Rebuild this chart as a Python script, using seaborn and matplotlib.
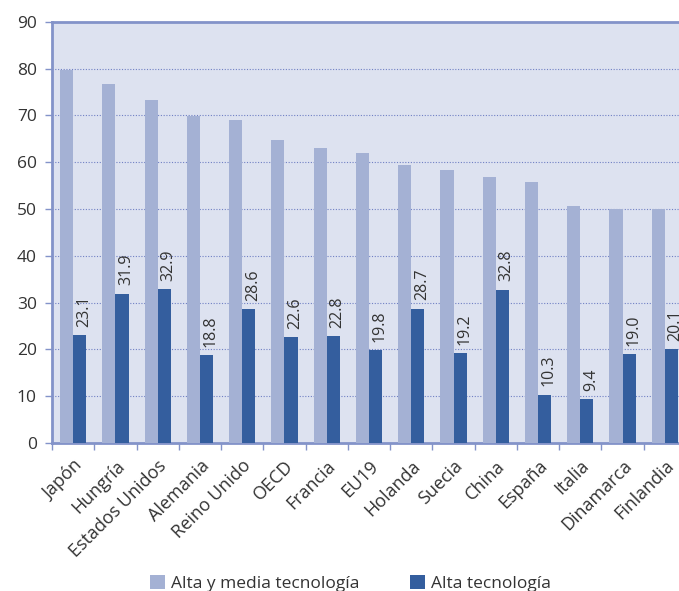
import matplotlib
matplotlib.use("Agg")
import matplotlib.pyplot as plt
import seaborn as sns
import pandas as pd
import numpy as np
from matplotlib.patches import Patch

categories = ["Japón", "Hungría", "Estados Unidos", "Alemania", "Reino Unido", "OECD",
              "Francia", "EU19", "Holanda", "Suecia", "China", "España", "Italia",
              "Dinamarca", "Finlandia"]
alta_media = [79.7, 76.7, 73.3, 69.9, 69.0, 64.7, 63.0, 62.0, 59.4, 58.3, 56.8, 55.8, 50.6, 50.0, 50.0]
alta = [23.1, 31.9, 32.9, 18.8, 28.6, 22.6, 22.8, 19.8, 28.7, 19.2, 32.8, 10.3, 9.4, 19.0, 20.1]
series_names = ["Alta y media tecnología", "Alta tecnología"]
yticks = [0, 10, 20, 30, 40, 50, 60, 70, 80, 90]

df = pd.DataFrame({
    "pais": categories * 2,
    "valor": alta_media + alta,
    "serie": [series_names[0]] * len(categories) + [series_names[1]] * len(categories),
})

sns.set_theme(style="white")
plt.rcParams["font.family"] = ["Open Sans", "DejaVu Sans"]

light = "#a4b1d4"
dark = "#345e9e"
axis_col = "#8393c9"
text_col = "#333333"

fig = plt.figure(figsize=(6.79, 5.91), dpi=100)
ax = fig.add_axes([0.0766, 0.2504, 1.0103 - 0.0766, 0.963 - 0.2504])
ax.set_facecolor("#dde2f0")

sns.barplot(data=df, x="pais", y="valor", hue="serie", order=categories,
            hue_order=series_names, palette=[light, dark], width=0.62,
            saturation=1, ax=ax, legend=False, zorder=3,
            linewidth=0, edgecolor="none")

ax.set_xlim(-0.5, len(categories) - 0.5)
ax.set_ylim(0, 90)
ax.set_yticks(yticks)
ax.set_yticklabels([str(v) for v in yticks], fontsize=12.5, color=text_col)
ax.set_xlabel("")
ax.set_ylabel("")

# dotted grid
for v in yticks[1:-1]:
    ax.axhline(v, color="#7080c4", lw=0.8, ls=(0, (1, 1.5)), zorder=1)

for s in ["top", "left", "bottom"]:
    ax.spines[s].set_visible(True)
    ax.spines[s].set_color(axis_col)
    ax.spines[s].set_linewidth(2.0)
ax.spines["right"].set_visible(False)

ax.tick_params(axis="y", which="major", length=5, width=1, color=axis_col, left=True, pad=6)
ax.set_xticks(range(len(categories)))
ax.set_xticklabels(categories, rotation=45, ha="right", rotation_mode="anchor",
                   fontsize=13, color=text_col)
ax.tick_params(axis="x", which="major", length=0, pad=10)
ax.set_xticks(np.arange(-0.5, len(categories), 1), minor=True)
ax.tick_params(axis="x", which="minor", length=5, width=1, color=axis_col, bottom=True)

# value labels above dark bars
dark_bars = ax.containers[1]
for bar, v in zip(dark_bars, alta):
    ax.annotate(f"{v:.1f}", (bar.get_x() + bar.get_width() / 2, bar.get_height()),
                xytext=(3, 6), textcoords="offset points", rotation=90,
                ha="center", va="bottom", fontsize=11.5, color=text_col, zorder=5)

handles = [Patch(facecolor=light, edgecolor="none"), Patch(facecolor=dark, edgecolor="none")]
fig.legend(handles, series_names, loc="center", bbox_to_anchor=(0.516, 0.012),
           ncol=2, frameon=False, fontsize=12.5, handlelength=0.85, handleheight=0.85,
           columnspacing=2.9, handletextpad=0.35, labelcolor=text_col)

fig.savefig("out.png", dpi=100)
